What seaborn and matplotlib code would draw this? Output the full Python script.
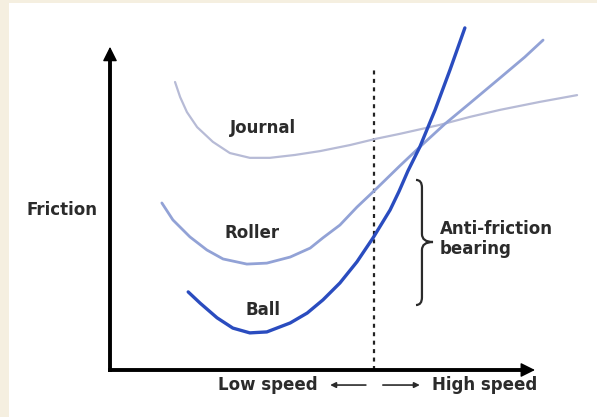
import numpy as np
import pandas as pd
import seaborn as sns
import matplotlib.pyplot as plt
from matplotlib.patches import Rectangle, PathPatch
from matplotlib.path import Path

# Friction vs speed (schematic units, speed 0-10, friction 0-10)
journal_speed = [1.53, 1.65, 1.81, 2.05, 2.42, 2.82, 3.29, 3.76, 4.35, 4.94, 5.65, 6.24,
                 6.82, 7.76, 8.47, 9.18, 10.12, 10.99]
journal_friction = [9.00, 8.53, 8.06, 7.59, 7.13, 6.78, 6.63, 6.63, 6.72, 6.84, 7.03, 7.22,
                    7.38, 7.66, 7.91, 8.13, 8.38, 8.59]

roller_speed = [1.22, 1.48, 1.88, 2.28, 2.66, 3.22, 3.69, 4.24, 4.71, 5.01, 5.41, 5.81,
                6.24, 6.82, 7.29, 7.88, 8.47, 9.18, 9.76, 10.19]
roller_friction = [5.22, 4.69, 4.16, 3.75, 3.47, 3.31, 3.34, 3.53, 3.81, 4.13, 4.53, 5.09,
                   5.63, 6.38, 6.97, 7.69, 8.34, 9.13, 9.78, 10.31]

ball_speed = [1.84, 2.12, 2.52, 2.89, 3.29, 3.69, 4.24, 4.64, 5.01, 5.41, 5.81, 6.19,
              6.59, 6.80, 7.01, 7.29, 7.65, 8.00, 8.35]
ball_friction = [2.44, 2.09, 1.63, 1.31, 1.16, 1.19, 1.47, 1.78, 2.19, 2.72, 3.38, 4.13,
                 5.00, 5.58, 6.22, 6.97, 8.13, 9.38, 10.69]

boundary_speed = 6.21  # low / high speed split
curve_labels = {"Journal": (3.6, 7.56), "Roller": (3.34, 4.28), "Ball": (3.6, 1.88)}

colors = {"Journal": "#b7bbd6", "Roller": "#92a2d6", "Ball": "#2a4cbf"}
widths = {"Journal": 1.6, "Roller": 2.0, "Ball": 2.4}

df = pd.concat([
    pd.DataFrame({"speed": journal_speed, "friction": journal_friction, "type": "Journal"}),
    pd.DataFrame({"speed": roller_speed, "friction": roller_friction, "type": "Roller"}),
    pd.DataFrame({"speed": ball_speed, "friction": ball_friction, "type": "Ball"}),
])

sns.set_style("white")
plt.rcParams['font.family'] = ['DejaVu Sans']

fig = plt.figure(figsize=(5.97, 4.17), dpi=100)
fig.patch.set_facecolor("#f5efe0")

ax = fig.add_axes([0, 0, 1, 1])
ax.set_xlim(-110 / 42.5, 487 / 42.5)
ax.set_ylim(-47 / 32, 370 / 32)
ax.axis("off")
# white panel inside the beige frame
ax.add_patch(Rectangle((9 / 597, 0), 1, 1 - 3 / 417, transform=ax.transAxes,
                       facecolor="white", edgecolor="none", zorder=0, clip_on=False))

for name in ["Journal", "Roller", "Ball"]:
    sub = df[df["type"] == name]
    sns.lineplot(data=sub, x="speed", y="friction", sort=False, color=colors[name],
                 lw=widths[name], ax=ax, solid_capstyle="round", solid_joinstyle="round",
                 zorder=3)

# axes with arrows
ax.plot([0, 9.7], [0, 0], color="black", lw=2.8, solid_capstyle="projecting", zorder=4)
ax.plot([0, 0], [0, 9.8], color="black", lw=2.8, solid_capstyle="projecting", zorder=4)
head = dict(arrowstyle="-|>", lw=1, color="black", mutation_scale=22, shrinkA=0, shrinkB=0)
ax.annotate("", xy=(10.0, 0), xytext=(9.5, 0), arrowprops=head, zorder=4)
ax.annotate("", xy=(0, 10.1), xytext=(0, 9.5), arrowprops=head, zorder=4)

# low/high speed divider
ax.plot([boundary_speed, boundary_speed], [0, 9.47], color="#222222", lw=1.6,
        ls=(0, (1.8, 2.0)), zorder=2)

txt = dict(fontsize=12, fontweight="bold", color="#2b2b2b")
for name, (x, y) in curve_labels.items():
    ax.text(x, y, name, ha="center", va="center", **txt)
ax.text(-1.13, 5.0, "Friction", ha="center", va="center", **txt)
ax.text(4.89, -0.47, "Low speed", ha="right", va="center", **txt)
ax.text(7.58, -0.47, "High speed", ha="left", va="center", **txt)
ax.text(7.76, 4.1, "Anti-friction\nbearing", ha="left", va="center",
        linespacing=1.1, **txt)

arrow_kw = dict(arrowstyle="-|>", lw=1.2, color="#2b2b2b", mutation_scale=8,
                shrinkA=0, shrinkB=0)
ax.annotate("", xy=(5.18, -0.47), xytext=(6.02, -0.47), arrowprops=arrow_kw)
ax.annotate("", xy=(7.29, -0.47), xytext=(6.42, -0.47), arrowprops=arrow_kw)

# brace for anti-friction bearings
bx, bc, bt = 7.34, 7.20, 7.60
top, mid, bot = 5.94, 4.0, 2.03
verts = [(bc, top), (bx, top), (bx, top - 0.24), (bx, mid + 0.25),
         (bx, mid), (bt, mid), (bx, mid), (bx, mid - 0.25),
         (bx, bot + 0.24), (bx, bot), (bc, bot)]
codes = [Path.MOVETO, Path.CURVE3, Path.CURVE3, Path.LINETO,
         Path.CURVE3, Path.CURVE3, Path.CURVE3, Path.CURVE3,
         Path.LINETO, Path.CURVE3, Path.CURVE3]
ax.add_patch(PathPatch(Path(verts, codes), facecolor="none", edgecolor="#2b2b2b", lw=1.6))

plt.savefig("out.png", dpi=100, facecolor=fig.get_facecolor())
